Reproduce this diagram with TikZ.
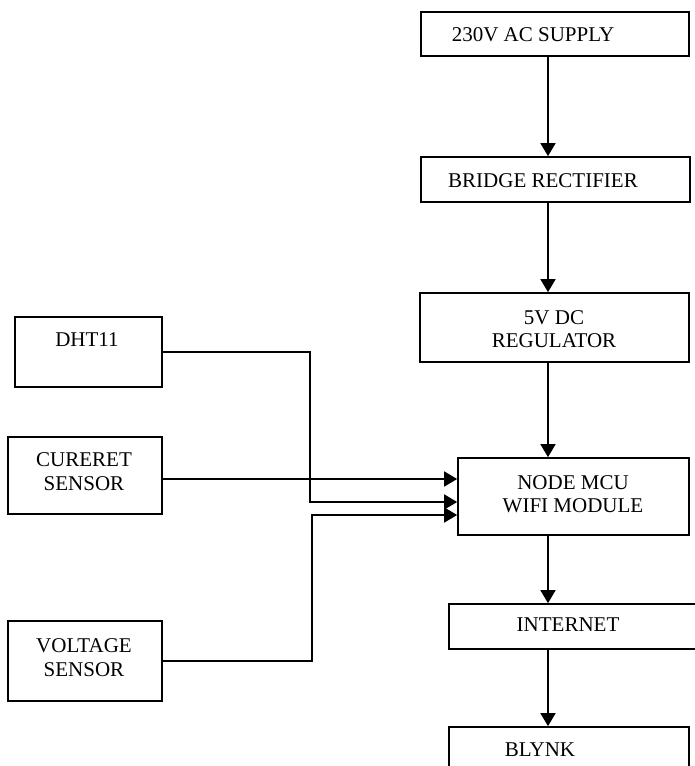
\documentclass[tikz,border=0pt]{standalone}
\usepackage{fontspec}
\setmainfont{Liberation Serif}
\usetikzlibrary{arrows.meta}
\begin{document}
\begin{tikzpicture}[x=1pt,y=-1pt,
  box/.style={draw,line width=1.7pt,inner sep=0pt,minimum width=#1},
  lbl/.style={inner sep=0pt,align=center,font=\fontsize{21}{23.5}\selectfont},
  arr/.style={line width=1.7pt,-{Triangle[length=13pt,width=15pt]}},
  wire/.style={line width=1.7pt}]
\useasboundingbox (0,0) rectangle (695,766);
% boxes
\node[box=268pt,minimum height=44pt] (ac) at (555,34) {};
\node[lbl] (acT) at (533,35) {230V AC SUPPLY};
\node[box=269pt,minimum height=45pt] (br) at (555.5,179.5) {};
\node[lbl] (brT) at (543,181) {BRIDGE RECTIFIER};
\node[box=269pt,minimum height=69pt] (reg) at (554.5,327.5) {};
\node[lbl] (regT) at (554,329) {5V DC\\REGULATOR};
\node[box=231pt,minimum height=77pt] (mcu) at (573.5,496.5) {};
\node[lbl] (mcuT) at (573,494) {NODE MCU\\WIFI MODULE};
\node[box=252pt,minimum height=45pt] (net) at (575,626.5) {};
\node[lbl] (netT) at (568,625) {INTERNET};
\node[box=240pt,minimum height=70pt] (bly) at (569,762) {};
\node[lbl] (blyT) at (540,750) {BLYNK};
\node[box=147pt,minimum height=70pt] (dht) at (88.5,352) {};
\node[lbl] (dhtT) at (87,340) {DHT11};
\node[box=154pt,minimum height=77pt] (cur) at (85,475.5) {};
\node[lbl] (curT) at (84,471.5) {CURERET\\SENSOR};
\node[box=154pt,minimum height=80pt] (vol) at (85,661) {};
\node[lbl] (volT) at (84,657.5) {VOLTAGE\\SENSOR};
% helper coordinates
\coordinate (col) at (548,0);
\coordinate (cy) at (0,479);
\coordinate (dj) at (310,502);
\coordinate (vj) at (312,515);
% vertical chain
\draw[arr] (ac.south -| col) -- (br.north -| col);
\draw[arr] (br.south -| col) -- (reg.north -| col);
\draw[arr] (reg.south -| col) -- (mcu.north -| col);
\draw[arr] (mcu.south -| col) -- (net.north -| col);
\draw[arr] (net.south -| col) -- (bly.north -| col);
% sensors
\draw[arr] (cur.east |- cy) -- (mcu.west |- cy);
\draw[arr] (dht.east) -| (dj) -- (mcu.west |- dj);
\draw[arr] (vol.east) -| (vj) -- (mcu.west |- vj);
\end{tikzpicture}
\end{document}
